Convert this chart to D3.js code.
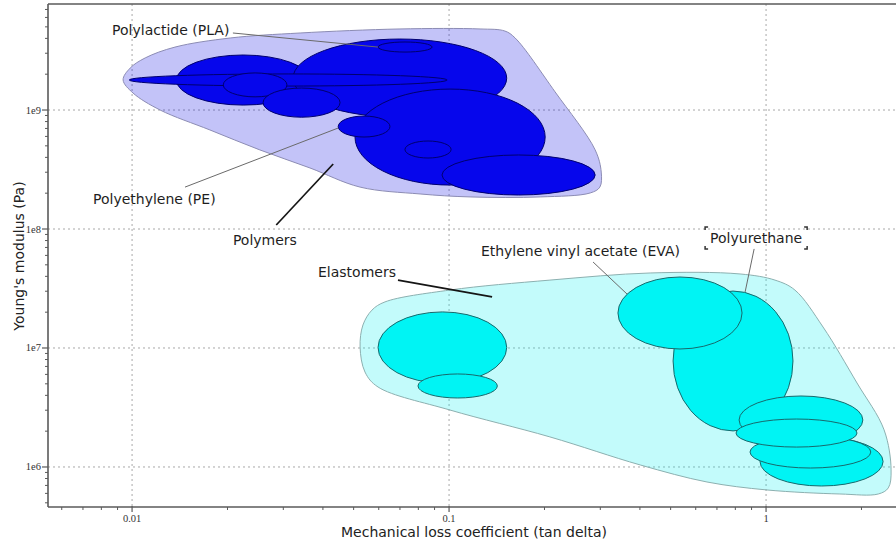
<!DOCTYPE html>
<html>
<head>
<meta charset="utf-8">
<script src="https://cdn.jsdelivr.net/npm/d3@7"></script>
<style>
  html, body { margin: 0; padding: 0; background: #ffffff; }
  svg { display: block; }
</style>
</head>
<body>
<svg id="chart" width="896" height="544"></svg>
<script>
// Material property chart: Young's modulus vs. mechanical loss coefficient

// Axis settings
const xDomain = [0.00543, 2.57];
const yDomain = [4.61e5, 7.78e9];
const xTickValues = [0.01, 0.1, 1];
const xTickLabels = ["0.01", "0.1", "1"];
const yTickValues = [1e6, 1e7, 1e8, 1e9];
const yTickLabels = ["1e6", "1e7", "1e8", "1e9"];
const xTitle = "Mechanical loss coefficient (tan delta)";
const yTitle = "Young's modulus (Pa)";

// Polymer family: property ranges [loss min, loss max], [modulus min, modulus max]
const polymerBubbles = [
  { name: "Polymer A", loss: [0.0138, 0.0364], modulus: [1.10e9, 2.90e9] },
  { name: "Polymer B", loss: [0.0322, 0.152], modulus: [8.7e8, 3.95e9] },
  { name: "Polymer C", loss: [0.0098, 0.0986], modulus: [1.59e9, 2.01e9] },
  { name: "Polymer D", loss: [0.0194, 0.0308], modulus: [1.29e9, 2.05e9] },
  { name: "Polymer E", loss: [0.0259, 0.0453], modulus: [8.7e8, 1.53e9] },
  { name: "Polymer F", loss: [0.0505, 0.201], modulus: [2.34e8, 1.50e9] },
  { name: "Polyethylene (PE)", loss: [0.0447, 0.0651], modulus: [5.93e8, 8.9e8] },
  { name: "Polymer G", loss: [0.0726, 0.1015], modulus: [3.95e8, 5.49e8] },
  { name: "Polymer H", loss: [0.095, 0.289], modulus: [1.93e8, 4.19e8] },
  { name: "Polylactide (PLA)", loss: [0.0597, 0.0884], modulus: [3.07e9, 3.73e9] }
];

// Elastomer family
const elastomerBubbles = [
  { name: "Elastomer A", loss: [0.0597, 0.152], modulus: [5.08e6, 2.01e7] },
  { name: "Elastomer B", loss: [0.0798, 0.142], modulus: [3.80e6, 6.05e6] },
  { name: "Polyurethane", loss: [0.509, 1.216], modulus: [2.01e6, 3.01e7] },
  { name: "Ethylene vinyl acetate (EVA)", loss: [0.341, 0.84], modulus: [9.81e6, 3.95e7] },
  { name: "Elastomer C", loss: [0.957, 2.34], modulus: [6.92e5, 1.78e6] },
  { name: "Elastomer D", loss: [0.89, 2.14], modulus: [9.8e5, 1.82e6] },
  { name: "Elastomer E", loss: [0.822, 2.02], modulus: [1.56e6, 3.95e6] },
  { name: "Elastomer F", loss: [0.804, 1.936], modulus: [1.47e6, 2.53e6] }
];

// Family envelopes: boundary points [loss, modulus]
const polymerEnvelope = [
  [0.00937, 1.79e9], [0.00986, 2.25e9], [0.0110, 2.74e9], [0.01366, 3.38e9],
  [0.0204, 4.03e9], [0.0339, 4.44e9], [0.0700, 4.80e9], [0.1253, 4.80e9],
  [0.150, 4.61e9], [0.1616, 4.03e9], [0.216, 1.42e9], [0.289, 4.62e8],
  [0.302, 3.01e8], [0.299, 2.25e8], [0.279, 2.01e8], [0.194, 1.86e8],
  [0.1165, 1.86e8], [0.0810, 1.97e8], [0.0524, 2.25e8], [0.0364, 3.26e8],
  [0.0253, 4.62e8], [0.0176, 6.80e8], [0.01226, 1.00e9], [0.01007, 1.39e9]
];
const elastomerEnvelope = [
  [0.0524, 1.02e7], [0.0535, 1.56e7], [0.0571, 2.08e7], [0.0628, 2.44e7],
  [0.1007, 3.07e7], [0.208, 3.72e7], [0.431, 4.27e7], [0.828, 4.19e7],
  [1.067, 3.72e7], [1.233, 3.07e7], [1.513, 1.50e7], [1.936, 5.08e6],
  [2.357, 2.05e6], [2.48, 9.45e5], [2.43, 6.67e5], [2.26, 5.93e5],
  [1.71, 5.93e5], [1.007, 6.41e5], [0.651, 7.48e5], [0.401, 1.04e6],
  [0.208, 1.79e6], [0.1007, 3.01e6], [0.0597, 4.70e6], [0.0543, 6.28e6]
];

// Annotations: label anchor and leader line [from, to] in data units
const annotations = [
  { text: "Polylactide (PLA)", at: [0.00865, 4.27e9], line: [[0.0208, 4.44e9], [0.0597, 3.38e9]], heavy: false },
  { text: "Polyethylene (PE)", at: [0.00753, 1.62e8], line: [[0.01469, 2.25e8], [0.0447, 7.06e8]], heavy: false },
  { text: "Polymers", at: [0.0208, 7.35e7], line: [[0.0285, 1.08e8], [0.0431, 3.52e8]], heavy: true },
  { text: "Elastomers", at: [0.0386, 3.95e7], line: [[0.0690, 3.72e7], [0.1367, 2.69e7]], heavy: true },
  { text: "Ethylene vinyl acetate (EVA)", at: [0.126, 5.93e7], line: [[0.2846, 5.28e7], [0.3643, 2.84e7]], heavy: false },
  { text: "Polyurethane", at: [0.666, 7.63e7], line: [[0.917, 6.80e7], [0.859, 2.96e7]], heavy: false, selected: true }
];

const W = 896, H = 544;
const plot = { left: 48, right: 896, top: 4, bottom: 507 };

const svg = d3.select("#chart");
const x = d3.scaleLog().domain(xDomain).range([plot.left, plot.right]);
const y = d3.scaleLog().domain(yDomain).range([plot.bottom, plot.top]);

svg.append("defs").append("clipPath").attr("id", "plot-clip")
  .append("rect")
  .attr("x", plot.left).attr("y", plot.top)
  .attr("width", plot.right - plot.left).attr("height", plot.bottom - plot.top);

// Grid lines at decades
const grid = svg.append("g").attr("class", "grid");
grid.selectAll("line.gx").data(xTickValues).join("line")
  .attr("x1", d => x(d)).attr("x2", d => x(d))
  .attr("y1", plot.top).attr("y2", plot.bottom)
  .attr("stroke", "#a8a8a8").attr("stroke-width", 1).attr("stroke-dasharray", "2,3");
grid.selectAll("line.gy").data(yTickValues).join("line")
  .attr("y1", d => y(d)).attr("y2", d => y(d))
  .attr("x1", plot.left).attr("x2", plot.right)
  .attr("stroke", "#a8a8a8").attr("stroke-width", 1).attr("stroke-dasharray", "2,3");

const area = svg.append("g").attr("clip-path", "url(#plot-clip)");

// Envelopes
const envLine = d3.line()
  .x(d => x(d[0])).y(d => y(d[1]))
  .curve(d3.curveCatmullRomClosed.alpha(0.5));

area.append("path").datum(polymerEnvelope)
  .attr("d", envLine)
  .attr("fill", "#0000e0").attr("fill-opacity", 0.235)
  .attr("stroke", "#8c8cb4").attr("stroke-width", 1);

area.append("path").datum(elastomerEnvelope)
  .attr("d", envLine)
  .attr("fill", "#00ecec").attr("fill-opacity", 0.235)
  .attr("stroke", "#8cb0b0").attr("stroke-width", 1);

// Bubbles
function drawBubbles(data, fill, stroke) {
  area.append("g").selectAll("ellipse").data(data).join("ellipse")
    .attr("cx", d => (x(d.loss[0]) + x(d.loss[1])) / 2)
    .attr("cy", d => (y(d.modulus[0]) + y(d.modulus[1])) / 2)
    .attr("rx", d => (x(d.loss[1]) - x(d.loss[0])) / 2)
    .attr("ry", d => (y(d.modulus[0]) - y(d.modulus[1])) / 2)
    .attr("fill", fill)
    .attr("stroke", stroke)
    .attr("stroke-width", 1);
}
drawBubbles(polymerBubbles, "#0606ec", "#00006e");
drawBubbles(elastomerBubbles, "#00f4f4", "#17696c");

// Axes
const axisColor = "#5a5a5a";
const axes = svg.append("g");
axes.append("line")
  .attr("x1", plot.left).attr("x2", plot.right)
  .attr("y1", plot.bottom).attr("y2", plot.bottom)
  .attr("stroke", axisColor).attr("stroke-width", 1.6);
axes.append("line")
  .attr("x1", plot.left).attr("x2", plot.right)
  .attr("y1", plot.top).attr("y2", plot.top)
  .attr("stroke", axisColor).attr("stroke-width", 1.6);
axes.append("line")
  .attr("x1", plot.left).attr("x2", plot.left)
  .attr("y1", plot.top).attr("y2", plot.bottom)
  .attr("stroke", axisColor).attr("stroke-width", 1.6);

const isMajor = v => Math.abs(Math.log10(v) - Math.round(Math.log10(v))) < 1e-9;
const xMinor = x.ticks().filter(v => !isMajor(v));
const yMinor = y.ticks().filter(v => !isMajor(v));

axes.selectAll("line.xminor").data(xMinor).join("line")
  .attr("x1", d => x(d)).attr("x2", d => x(d))
  .attr("y1", plot.bottom).attr("y2", plot.bottom + 3)
  .attr("stroke", axisColor).attr("stroke-width", 1);
axes.selectAll("line.xmajor").data(xTickValues).join("line")
  .attr("x1", d => x(d)).attr("x2", d => x(d))
  .attr("y1", plot.bottom - 1).attr("y2", plot.bottom + 5)
  .attr("stroke", axisColor).attr("stroke-width", 1.2);
axes.selectAll("line.yminor").data(yMinor).join("line")
  .attr("y1", d => y(d)).attr("y2", d => y(d))
  .attr("x1", plot.left - 3).attr("x2", plot.left)
  .attr("stroke", axisColor).attr("stroke-width", 1);
axes.selectAll("line.ymajor").data(yTickValues).join("line")
  .attr("y1", d => y(d)).attr("y2", d => y(d))
  .attr("x1", plot.left - 6).attr("x2", plot.left)
  .attr("stroke", axisColor).attr("stroke-width", 1.2);

const tickFont = "'Liberation Serif', 'DejaVu Serif', serif";
axes.selectAll("text.xl").data(xTickValues).join("text")
  .attr("x", d => x(d)).attr("y", plot.bottom + 15)
  .attr("text-anchor", "middle")
  .attr("font-family", tickFont).attr("font-size", 10.5).attr("fill", "#333")
  .text((d, i) => xTickLabels[i]);
axes.selectAll("text.yl").data(yTickValues).join("text")
  .attr("x", plot.left - 7).attr("y", d => y(d) + 3.5)
  .attr("text-anchor", "end")
  .attr("font-family", tickFont).attr("font-size", 10.5).attr("fill", "#333")
  .text((d, i) => yTickLabels[i]);

const labelFont = "'DejaVu Sans', Verdana, sans-serif";
svg.append("text")
  .attr("x", (plot.left + plot.right) / 2 + 2).attr("y", 537)
  .attr("text-anchor", "middle")
  .attr("font-family", labelFont).attr("font-size", 14).attr("fill", "#222")
  .text(xTitle);
svg.append("text")
  .attr("transform", "translate(23.5,256) rotate(-90)")
  .attr("text-anchor", "middle")
  .attr("font-family", labelFont).attr("font-size", 14).attr("fill", "#222")
  .text(yTitle);

// Annotations
const notes = svg.append("g");
notes.selectAll("line").data(annotations).join("line")
  .attr("x1", d => x(d.line[0][0])).attr("y1", d => y(d.line[0][1]))
  .attr("x2", d => x(d.line[1][0])).attr("y2", d => y(d.line[1][1]))
  .attr("stroke", d => d.heavy ? "#151515" : "#6a6a6a")
  .attr("stroke-width", d => d.heavy ? 1.7 : 1);

const labels = notes.selectAll("text").data(annotations).join("text")
  .attr("x", d => x(d.at[0])).attr("y", d => y(d.at[1]))
  .attr("font-family", labelFont).attr("font-size", 14).attr("fill", "#1e1e1e")
  .text(d => d.text);

// Selection corner marks around the highlighted label
labels.filter(d => d.selected).each(function () {
  const b = this.getBBox();
  const x0 = b.x - 5, x1 = b.x + b.width + 5, y0 = b.y - 3, y1 = b.y + b.height + 3;
  const a = 3;
  const corners = [
    `M${x0},${y0 + a}V${y0}H${x0 + a}`,
    `M${x1 - a},${y0}H${x1}V${y0 + a}`,
    `M${x0},${y1 - a}V${y1}H${x0 + a}`,
    `M${x1 - a},${y1}H${x1}V${y1 - a}`
  ];
  notes.append("path").attr("d", corners.join(""))
    .attr("fill", "none").attr("stroke", "#333").attr("stroke-width", 1.5);
});
</script>
</body>
</html>
